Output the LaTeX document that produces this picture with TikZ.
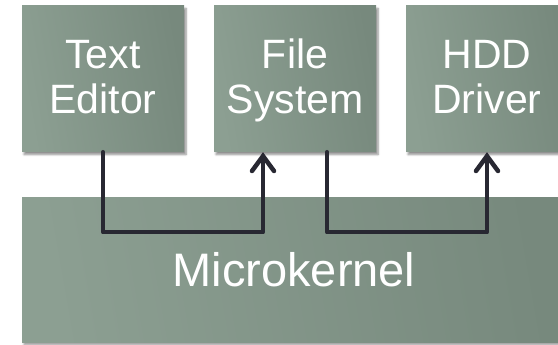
\documentclass[tikz,border=0pt]{standalone}
\usepackage{fontspec}
\setmainfont{Liberation Sans}
\usetikzlibrary{arrows.meta,shadows.blur,calc}
\definecolor{boxlight}{RGB}{140,159,146}
\definecolor{boxdark}{RGB}{119,137,125}
\definecolor{wire}{RGB}{40,40,50}
\tikzset{
  x=1pt, y=-1pt,
  module/.style={rectangle, inner sep=0pt, minimum width=162pt, minimum height=146pt,
    left color=boxlight, right color=boxdark, shading angle=100,
    blur shadow={shadow xshift=2pt, shadow yshift=-2.5pt, shadow blur steps=6, shadow opacity=45}},
  caption/.style={text=white, align=center, inner sep=0pt, yshift=-3.5pt,
    font=\fontsize{41}{45}\selectfont},
  kernel/.style={module, minimum width=544pt, minimum height=144pt,
    text=white, font=\fontsize{47}{52}\selectfont},
  conn/.style={draw=wire, line width=4.5pt, line join=round, line cap=round},
  link/.style={conn, -{Straight Barb[length=15pt, width=22pt, line cap=round]}}
}
\begin{document}
\begin{tikzpicture}
  \useasboundingbox (0,0) rectangle (558,345);
  \clip (0,0) rectangle (558,345);
  % layer of the kernel
  \node[kernel] (mk) at (294,270) {Microkernel};
  % user-space servers
  \node[module, label={[caption]center:Text\strut\\Editor\strut}] (te) at (103,79) {};
  \node[module, label={[caption]center:File\strut\\System\strut}] (fs) at (295,79) {};
  \node[module, label={[caption]center:HDD\strut\\Driver\strut}] (hdd) at (487,79) {};
  % message-passing paths through the kernel
  \coordinate (fsin) at ($(fs.south)+(-32,0)$);
  \coordinate (fsout) at ($(fs.south)+(32,0)$);
  \draw[link] (te.south) -- ++(0,80) -| (fsin);
  \draw[link] (fsout) -- ++(0,80) -| (hdd.south);
\end{tikzpicture}
\end{document}
